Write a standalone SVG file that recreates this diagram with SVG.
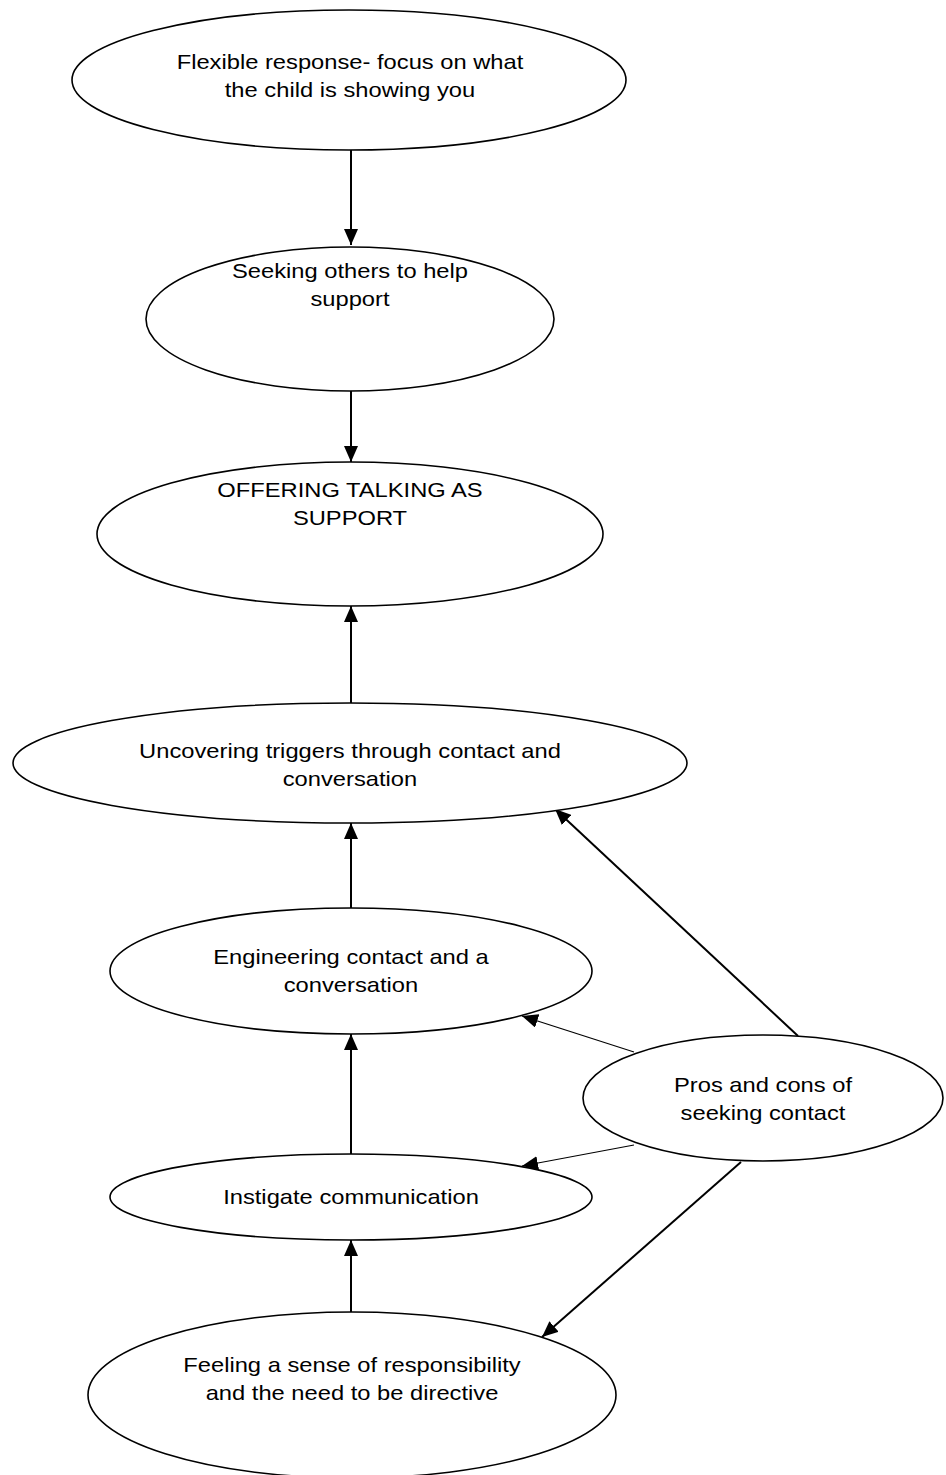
<svg xmlns="http://www.w3.org/2000/svg" width="946" height="1475" viewBox="0 0 946 1475">
  <style>
    .node ellipse { fill: #ffffff; stroke: #000000; stroke-width: 1.6; }
    .node text { font-family: "Liberation Sans", Arial, sans-serif; font-size: 21px; fill: #000000; text-anchor: middle; }
    .edge { stroke: #000000; fill: none; marker-end: url(#arrow); }
    .thick { stroke-width: 2; }
    .thin { stroke-width: 1.1; }
  </style>
  <defs>
    <marker id="arrow" markerUnits="userSpaceOnUse" markerWidth="16" markerHeight="14" refX="16" refY="7" orient="auto">
      <path d="M0,0 L16,7 L0,14 Z" fill="#000000"/>
    </marker>
  </defs>

  <rect width="946" height="1475" fill="#ffffff"/>

  <g id="connectors">
    <line class="edge thick" x1="351" y1="150" x2="351" y2="245"/>
    <line class="edge thick" x1="351" y1="391" x2="351" y2="462"/>
    <line class="edge thick" x1="351" y1="703" x2="351" y2="606"/>
    <line class="edge thick" x1="351" y1="908" x2="351" y2="823"/>
    <line class="edge thick" x1="351" y1="1155" x2="351" y2="1034"/>
    <line class="edge thick" x1="351" y1="1312" x2="351" y2="1240"/>
    <line class="edge thick" x1="798" y1="1036" x2="555" y2="809"/>
    <line class="edge thin" x1="634" y1="1052" x2="522" y2="1016"/>
    <line class="edge thin" x1="634" y1="1145" x2="522" y2="1166"/>
    <line class="edge thick" x1="741" y1="1162" x2="542" y2="1337"/>
  </g>

  <g id="flexible-response" class="node">
    <ellipse cx="349" cy="80" rx="277" ry="70"/>
    <text transform="translate(350,69) scale(1.13,1)"><tspan x="0">Flexible response- focus on what</tspan><tspan x="0" dy="28">the child is showing you</tspan></text>
  </g>

  <g id="seeking-others" class="node">
    <ellipse cx="350" cy="319" rx="204" ry="72"/>
    <text transform="translate(350,278) scale(1.13,1)"><tspan x="0">Seeking others to help</tspan><tspan x="0" dy="28">support</tspan></text>
  </g>

  <g id="offering-talking" class="node">
    <ellipse cx="350" cy="534" rx="253" ry="72"/>
    <text transform="translate(350,497) scale(1.13,1)"><tspan x="0">OFFERING TALKING AS</tspan><tspan x="0" dy="28">SUPPORT</tspan></text>
  </g>

  <g id="uncovering-triggers" class="node">
    <ellipse cx="350" cy="763" rx="337" ry="60"/>
    <text transform="translate(350,758) scale(1.13,1)"><tspan x="0">Uncovering triggers through contact and</tspan><tspan x="0" dy="28">conversation</tspan></text>
  </g>

  <g id="engineering-contact" class="node">
    <ellipse cx="351" cy="971" rx="241" ry="63"/>
    <text transform="translate(351,964) scale(1.13,1)"><tspan x="0">Engineering contact and a</tspan><tspan x="0" dy="28">conversation</tspan></text>
  </g>

  <g id="instigate-communication" class="node">
    <ellipse cx="351" cy="1197" rx="241" ry="43"/>
    <text transform="translate(351,1204) scale(1.13,1)">Instigate communication</text>
  </g>

  <g id="sense-of-responsibility" class="node">
    <ellipse cx="352" cy="1395" rx="264" ry="83"/>
    <text transform="translate(352,1372) scale(1.13,1)"><tspan x="0">Feeling a sense of responsibility</tspan><tspan x="0" dy="28">and the need to be directive</tspan></text>
  </g>

  <g id="pros-and-cons" class="node">
    <ellipse cx="763" cy="1098" rx="180" ry="63"/>
    <text transform="translate(763,1092) scale(1.13,1)"><tspan x="0">Pros and cons of</tspan><tspan x="0" dy="28">seeking contact</tspan></text>
  </g>
</svg>
